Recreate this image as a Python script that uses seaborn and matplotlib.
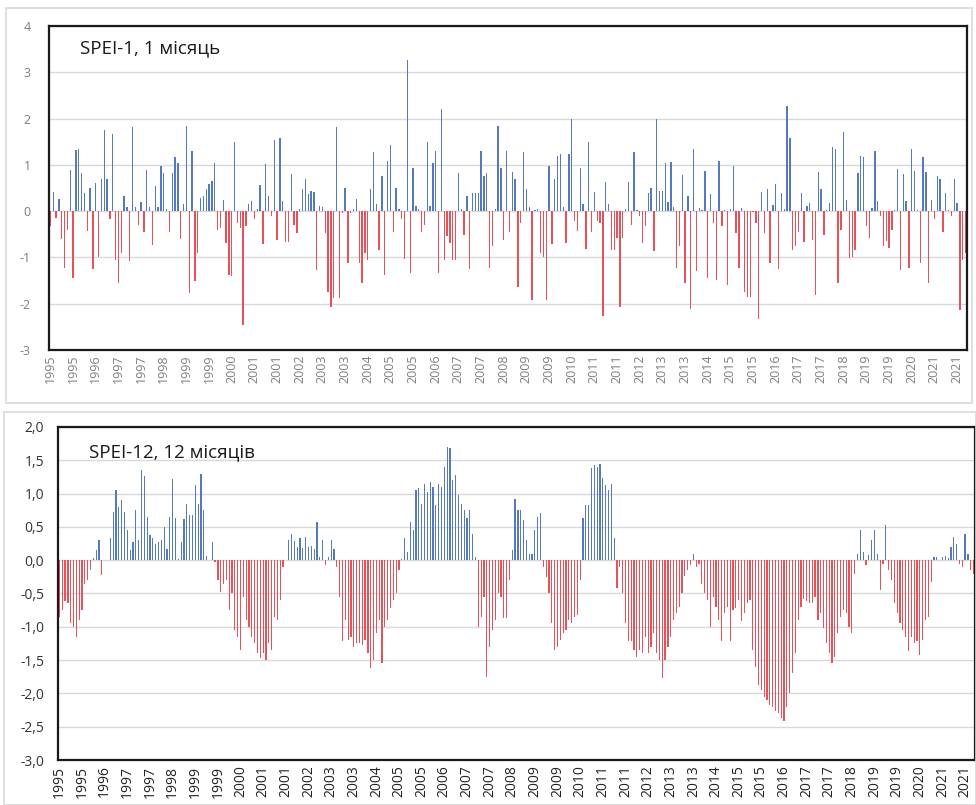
import numpy as np
import pandas as pd
import matplotlib
matplotlib.use("Agg")
import matplotlib.pyplot as plt
import seaborn as sns
from matplotlib.patches import Rectangle

# ---------------- data ----------------
years = list(range(1995, 2022))          # 27 years, monthly values
months_per_year = 12
label_step = 8                           # Excel shows every 8th category label

spei1 = [
    -0.33, 0.41, -0.15, 0.27, -0.6, -1.23, -0.4, 0.88, -1.45, 1.32, 1.34, 0.83,
    0.4, -0.43, 0.5, -1.25, 0.6, -1.0, 0.69, 1.75, 0.69, -0.17, 1.67, -1.05,
    -1.56, -0.9, 0.33, 0.1, -1.07, 1.81, 0.08, -0.29, 0.2, -0.46, 0.89, 0.1,
    -0.73, 0.54, 0.1, 0.98, 0.83, 0.05, -0.44, 0.83, 1.16, 1.05, -0.6, 0.15,
    1.83, -1.76, 1.3, -1.52, -0.9, 0.28, 0.33, 0.47, 0.58, 0.65, 1.05, -0.4,
    -0.36, 0.25, -0.69, -1.38, -1.4, 1.49, -0.25, -0.36, -2.46, -0.33, 0.15, 0.22,
    -0.17, 0.05, 0.56, -0.72, 1.01, 0.33, -0.1, 1.54, -0.62, 1.59, 0.22, -0.67,
    -0.67, 0.8, -0.31, -0.47, 0.05, 0.47, 0.7, 0.36, 0.43, 0.41, -1.27, 0.12,
    0.1, -0.47, -1.74, -2.07, -1.88, 1.81, -1.88, -0.04, 0.51, -1.12, -0.05, 0.05,
    0.27, -1.12, -1.56, -0.9, -1.05, 0.47, 1.27, 0.15, -0.83, 0.76, -1.38, 1.09,
    1.43, -0.46, 0.51, 0.05, -0.18, -1.04, 3.26, -1.34, 0.94, 0.11, 0.05, -0.46,
    -0.29, 1.49, 0.11, 1.05, 1.3, -1.33, 2.2, -1.05, -0.54, -0.69, -1.05, -1.05,
    0.83, 0.05, -0.51, 0.33, -1.25, 0.4, 0.4, 0.4, 1.3, 0.76, 0.82, -1.23,
    -0.76, 0.05, 1.83, 0.94, -0.62, 1.3, -0.46, 0.85, 0.69, -1.63, -0.25, 1.27,
    0.47, 0.1, -1.92, 0.03, 0.05, -0.9, -0.99, -1.92, 0.98, -0.72, 0.69, 1.2,
    1.23, 0.08, -0.69, 1.23, 1.99, -0.22, -0.43, 0.94, 0.15, -0.82, 1.49, -0.46,
    0.41, -0.22, -0.25, -2.27, 0.62, 0.15, -0.83, -0.83, -0.58, -2.07, -0.58, 0.05,
    0.62, -0.29, 1.27, 0.03, -0.1, -0.69, -0.33, 0.4, 0.51, -0.87, 2.0, 0.43,
    0.43, 1.05, 0.2, 1.07, 0.1, -1.23, -0.76, 0.78, -1.56, 0.33, -2.12, 1.34,
    -1.3, 0.07, 0.03, 0.87, -1.45, 0.36, -0.25, -1.49, 1.09, -0.33, 0.03, -1.59,
    0.04, 0.98, -0.47, -1.23, 0.07, -1.74, -1.85, -1.85, -0.02, -0.25, -2.32, 0.41,
    -0.47, 0.47, -1.12, 0.14, 0.58, -1.25, 0.4, 0.05, 2.28, 1.59, -0.83, -0.76,
    -0.46, 0.4, -0.67, 0.11, 0.18, -0.62, -1.81, 0.85, 0.47, -0.51, 0.03, 0.18,
    1.38, 1.34, -1.56, -0.4, 1.7, 0.25, -1.01, -0.98, -0.83, 0.83, 1.2, 1.16,
    -0.33, -0.58, 0.07, 1.3, 0.22, -0.1, -0.76, -0.65, -0.8, -0.41, 0.03, 0.92,
    -1.27, 0.8, 0.22, -1.23, 1.34, 0.87, 0.03, -1.12, 1.16, 0.85, -1.56, 0.25,
    -0.18, 0.76, 0.69, -0.46, 0.4, 0.02, -0.1, 0.69, 0.18, -2.14, -1.05, -0.9,
]

spei12 = [
    -0.85, -0.75, -0.62, -0.65, -0.95, -1.0, -1.15, -0.9, -0.75, -0.35, -0.3, -0.15,
    0.03, 0.15, 0.3, -0.22, 0.0, 0.0, 0.33, 0.72, 1.05, 0.8, 0.9, 0.72,
    0.45, 0.15, 0.28, 0.75, 0.3, 1.35, 1.27, 0.65, 0.38, 0.33, 0.25, 0.27,
    0.3, 0.5, 0.17, 0.65, 1.22, 0.63, 0.02, 0.27, 0.62, 0.85, 0.68, 0.68,
    1.13, 0.85, 1.3, 0.75, 0.07, 0.0, 0.27, -0.03, -0.3, -0.47, -0.35, -0.3,
    -0.75, -0.5, -1.05, -1.15, -1.35, -0.55, -0.9, -1.0, -1.15, -1.25, -1.4, -1.47,
    -1.4, -1.5, -1.25, -1.35, -0.85, -0.9, -0.6, -0.1, 0.0, 0.3, 0.4, 0.29,
    0.2, 0.33, 0.18, 0.35, 0.2, 0.22, 0.17, 0.58, 0.05, 0.3, -0.07, 0.05,
    0.3, 0.17, -0.1, -0.55, -1.22, -0.9, -1.2, -1.15, -1.3, -1.25, -1.25, -1.27,
    -1.2, -1.4, -1.62, -1.5, -1.1, -0.9, -1.55, -1.0, -0.9, -0.72, -0.6, -0.5,
    -0.15, 0.02, 0.33, 0.12, 0.58, 0.45, 1.05, 1.08, 0.85, 1.15, 1.03, 1.17,
    1.1, 0.83, 1.15, 1.1, 1.4, 1.7, 1.68, 1.2, 1.28, 0.98, 0.85, 0.75,
    0.63, 0.75, 0.4, 0.05, -1.0, -0.85, -0.55, -1.75, -1.3, -1.05, -0.9, -0.5,
    -0.55, -0.87, -0.87, -0.3, 0.15, 0.92, 0.75, 0.75, 0.6, 0.3, 0.1, 0.1,
    0.45, 0.65, 0.71, -0.1, -0.25, -0.5, -0.95, -1.35, -1.3, -1.2, -1.1, -1.05,
    -0.9, -0.95, -0.85, -0.82, -0.3, 0.63, 0.83, 0.83, 1.38, 1.43, 1.4, 1.45,
    1.23, 1.13, 1.05, 1.15, 0.33, -0.42, -0.1, -0.5, -0.95, -1.22, -1.22, -1.35,
    -1.45, -1.35, -1.4, -1.15, -1.4, -1.3, -1.1, -1.4, -1.5, -1.77, -1.5, -1.3,
    -1.15, -0.9, -0.8, -0.7, -0.5, -0.23, -0.15, -0.07, 0.1, -0.1, -0.05, -0.35,
    -0.5, -0.6, -1.0, -0.55, -0.7, -0.9, -1.22, -0.8, -0.7, -1.22, -0.75, -0.72,
    -0.6, -0.92, -0.8, -0.65, -0.6, -1.35, -1.6, -1.88, -1.95, -2.05, -2.1, -2.17,
    -2.2, -2.27, -2.3, -2.37, -2.42, -2.2, -2.0, -1.7, -1.4, -0.9, -0.7, -0.58,
    -0.62, -0.65, -0.65, -0.55, -0.9, -0.8, -1.02, -1.25, -1.4, -1.54, -1.45, -1.1,
    -0.85, -0.75, -0.8, -1.0, -1.1, -0.2, 0.1, 0.45, 0.12, -0.07, 0.08, 0.3,
    0.45, 0.1, -0.45, -0.05, 0.53, -0.15, -0.3, -0.65, -0.8, -0.95, -1.05, -1.15,
    -1.37, -1.15, -1.25, -1.22, -1.42, -1.2, -0.9, -0.85, -0.32, 0.05, 0.05, 0.0,
    0.05, 0.07, 0.04, 0.2, 0.35, 0.25, -0.05, -0.1, 0.4, 0.1, -0.15, -0.2,
]

title1 = "SPEI-1, 1 місяць"
title12 = "SPEI-12, 12 місяців"
yticks1 = [-3, -2, -1, 0, 1, 2, 3, 4]
yticks12 = [-3.0, -2.5, -2.0, -1.5, -1.0, -0.5, 0.0, 0.5, 1.0, 1.5, 2.0]

BLUE = "#5479BD"
RED = "#E8505A"

# ---------------- figure ----------------
sns.set_theme(style="white")
plt.rcParams["font.family"] = ["Open Sans", "DejaVu Sans"]

W, H = 976, 805
fig = plt.figure(figsize=(W / 100, H / 100), dpi=100)

# chart-area frames (light grey)
fig.patches.append(Rectangle((6 / W, 1 - 403 / H), 966 / W, 395 / H,
                             transform=fig.transFigure, fill=False,
                             edgecolor="#D9D9D9", lw=1.2))
fig.patches.append(Rectangle((4 / W, 0.0), 972 / W, 1 - 412 / H,
                             transform=fig.transFigure, fill=False,
                             edgecolor="#D9D9D9", lw=1.2))

ax1 = fig.add_axes([49 / W, 1 - 350 / H, 918 / W, 324 / H])
ax2 = fig.add_axes([58 / W, 1 - 760 / H, 917 / W, 333 / H])

month_year = [y for y in years for _ in range(months_per_year)]


def draw(ax, vals):
    df = pd.DataFrame({"m": np.arange(len(vals)), "v": vals})
    df["sign"] = np.where(df["v"] >= 0, "pos", "neg")
    sns.barplot(data=df, x="m", y="v", hue="sign",
                palette={"pos": BLUE, "neg": RED}, dodge=False,
                width=0.42, saturation=1, linewidth=0, legend=False, ax=ax)
    ax.set_xlim(-0.5, len(vals) - 0.5)
    pos = list(range(0, len(vals), label_step))
    ax.set_xticks(pos)
    ax.set_xlabel("")
    ax.set_ylabel("")
    ax.yaxis.grid(True, color="#D9D9D9", lw=1.0)
    ax.xaxis.grid(False)
    ax.set_axisbelow(True)
    for s in ax.spines.values():
        s.set_visible(True)
        s.set_color("#1a1a1a")
        s.set_linewidth(1.6)
    ax.tick_params(length=0)
    return pos


pos1 = draw(ax1, spei1)
ax1.set_ylim(-3, 4)
ax1.set_yticks(yticks1)
ax1.set_yticklabels([str(t) for t in yticks1], color="#7F7F7F", fontsize=9)
ax1.set_xticklabels([str(month_year[p]) for p in pos1], rotation=90,
                    color="#7F7F7F", fontsize=9)
ax1.tick_params(axis="y", pad=13)
ax1.tick_params(axis="x", pad=3)
ax1.text(0.034, 0.932, title1, transform=ax1.transAxes, fontsize=13.5,
         color="#1a1a1a", va="center", ha="left")

pos2 = draw(ax2, spei12)
ax2.set_ylim(-3, 2)
ax2.set_yticks(yticks12)
ax2.set_yticklabels([f"{t:.1f}".replace(".", ",") for t in yticks12],
                    color="#333333", fontsize=10)
ax2.set_xticklabels([str(month_year[p]) for p in pos2], rotation=90,
                    color="#222222", fontsize=10)
ax2.tick_params(axis="y", pad=10)
ax2.tick_params(axis="x", pad=4)
ax2.text(0.034, 0.923, title12, transform=ax2.transAxes, fontsize=13.5,
         color="#1a1a1a", va="center", ha="left")

fig.savefig("out.png", dpi=100)
